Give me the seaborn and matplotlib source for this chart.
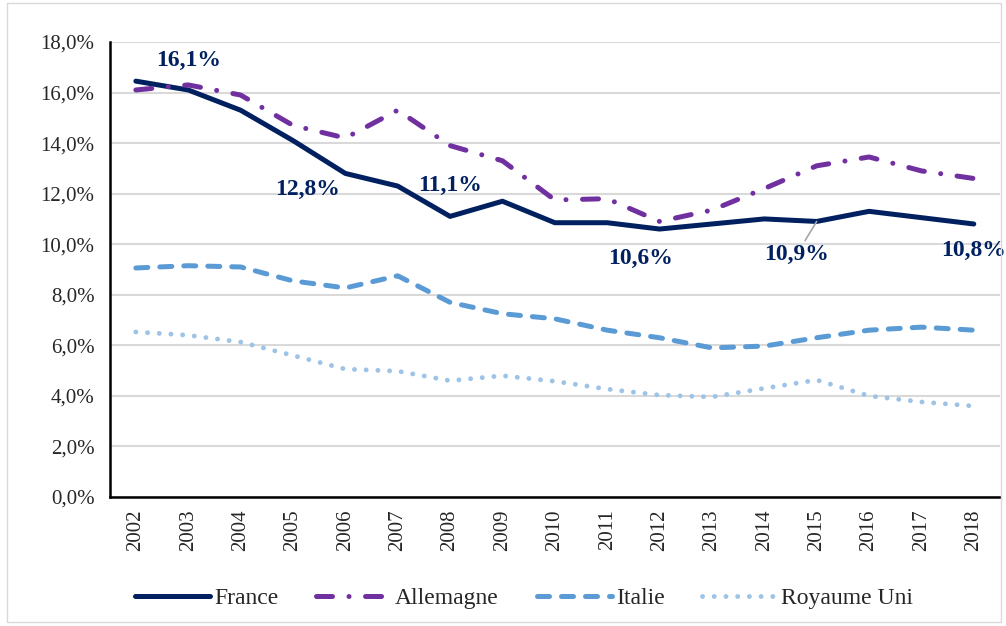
import numpy as np
import pandas as pd
import seaborn as sns
import matplotlib.pyplot as plt
from matplotlib.patches import Rectangle
from matplotlib.ticker import FuncFormatter

years = [str(y) for y in range(2002, 2019)]
france = [16.45, 16.1, 15.3, 14.1, 12.8, 12.3, 11.1, 11.7, 10.85, 10.85, 10.6, 10.8, 11.0, 10.9, 11.3, 11.05, 10.8]
allemagne = [16.1, 16.3, 15.9, 14.7, 14.2, 15.3, 13.9, 13.3, 11.75, 11.8, 10.9, 11.35, 12.2, 13.1, 13.45, 12.9, 12.6]
italie = [9.06, 9.15, 9.1, 8.55, 8.27, 8.75, 7.7, 7.25, 7.05, 6.6, 6.3, 5.9, 5.97, 6.3, 6.6, 6.72, 6.6]
royaume_uni = [6.53, 6.4, 6.13, 5.6, 5.06, 4.98, 4.6, 4.8, 4.58, 4.27, 4.03, 3.96, 4.3, 4.63, 4.0, 3.76, 3.6]

# labels on the France line: (year index, text)
labels_france = [(1, "16,1%"), (4, "12,8%"), (6, "11,1%"), (10, "10,6%"), (13, "10,9%"), (16, "10,8%")]

sns.set_style("white")
plt.rcParams['font.family'] = ['Liberation Serif', 'DejaVu Serif']

fig = plt.figure(figsize=(10.06, 6.26), dpi=100)
ax = fig.add_axes([0.109, 0.206, 0.885, 0.727])

x = np.arange(len(years))
series = [
    ("France", france, "#002060", 3.6, None),
    ("Allemagne", allemagne, "#7030A0", 3.6, (3.2, 3.3, 0.01, 3.3)),
    ("Italie", italie, "#5B9BD5", 3.6, (2.4, 2.4)),
    ("Royaume Uni", royaume_uni, "#9DC3E6", 3.5, (0.01, 2.4)),
]
for name, vals, col, lw, dash in series:
    sns.lineplot(x=x, y=vals, ax=ax, color=col, linewidth=lw, label=name)
    line = ax.lines[-1]
    line.set_solid_capstyle("round")
    line.set_dash_capstyle("round")
    line.set_solid_joinstyle("round")
    if dash is not None:
        line.set_dashes(dash)

ax.set_xlim(-0.5, 16.5)
ax.set_ylim(0, 18)
ax.set_yticks(np.arange(0, 18.1, 2))
ax.yaxis.set_major_formatter(FuncFormatter(lambda v, p: f"{v:.1f}%".replace(".", ",")))
ax.set_xticks(x)
ax.set_xticklabels(years, rotation=90)
ax.tick_params(axis="both", labelsize=15, length=0)
ax.tick_params(axis="y", pad=11)
ax.tick_params(axis="x", pad=9)
ax.grid(axis="y", color="#D9D9D9", linewidth=1.5)
ax.set_axisbelow(True)
for s in ["top", "right"]:
    ax.spines[s].set_visible(False)
for s in ["left", "bottom"]:
    ax.spines[s].set_color("black")
    ax.spines[s].set_linewidth(1.8)

offsets = {1: (0, 30), 4: (-38, -16), 6: (0, 31), 10: (-19, -29), 13: (-20, -33), 16: (0, -26)}
for i, txt in labels_france:
    dx, dy = offsets[i]
    arrow = dict(arrowstyle="-", color="#A6A6A6", lw=1.2, shrinkA=0, shrinkB=0) if i == 13 else None
    ax.annotate(txt, xy=(x[i], france[i]), xytext=(dx, dy), textcoords="offset pixels",
                ha="center", va="center", fontsize=17, fontweight="bold", color="#002060",
                arrowprops=arrow)

ax.get_legend().remove()
h, l = ax.get_legend_handles_labels()
fig.legend(h, l, loc="center", bbox_to_anchor=(0.521, 0.044), ncol=4, frameon=False,
           fontsize=17, handlelength=3.2, columnspacing=1.6, handletextpad=0.15)

fig.patches.append(Rectangle((0.007, 0.006), 0.988, 0.99, transform=fig.transFigure,
                             fill=False, edgecolor="#D9D9D9", linewidth=1))

fig.savefig("out.png", dpi=100)
